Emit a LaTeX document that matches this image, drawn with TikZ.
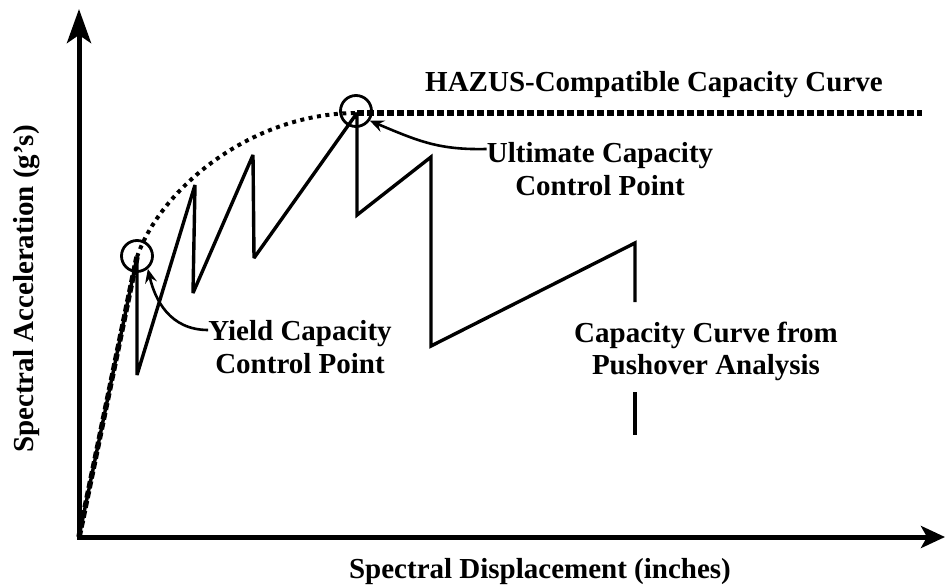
\documentclass[tikz,border=0pt]{standalone}
\usepackage{fontspec}
\setmainfont{Liberation Serif}
\usetikzlibrary{arrows.meta}
\begin{document}
\begin{tikzpicture}[x=1pt,y=-1pt,
  axis/.style={line width=5pt, line join=miter},
  pushover/.style={line width=3.4pt, line join=miter, miter limit=3},
  hazus/.style={line width=5.5pt, dash pattern=on 7pt off 3pt},
  hazuscurve/.style={line width=4pt, dash pattern=on 4pt off 4.5pt},
  ctrlpt/.style={circle, draw, line width=2.8pt, minimum size=31pt, inner sep=0pt},
  callout/.style={line width=2.6pt, -{Stealth[length=14pt,width=12pt,inset=5pt]}},
  lbl/.style={font=\bfseries\fontsize{29}{33}\selectfont, inner sep=0pt, anchor=base}
]
\useasboundingbox (0,0) rectangle (945,586);

% axes
\coordinate (O) at (79,537);
\coordinate (ytip) at (79,9);
\coordinate (xtip) at (945,537);
\draw[axis, {Stealth[length=34pt,width=24pt,inset=8pt]}-{Stealth[length=24pt,width=22pt,inset=6pt]}]
  (ytip) -- (O) -- (xtip);

% pushover capacity curve
\coordinate (yieldpt) at (137,257);
\coordinate (p2) at (137,375);
\coordinate (p3) at (195,185);
\coordinate (p4) at (193,293);
\coordinate (p5) at (253,155);
\coordinate (p6) at (254,258);
\coordinate (ultpt) at (357,113);
\coordinate (p8) at (357,215);
\coordinate (p9) at (431,157);
\coordinate (p10) at (431,346);
\coordinate (p11) at (635,243);
\coordinate (p12) at (635,302);
\coordinate (p13) at (635,392);
\coordinate (p14) at (635,435);
\draw[pushover] (O) -- (yieldpt) -- (p2) -- (p3) -- (p4) -- (p5) -- (p6)
  -- (ultpt) -- (p8) -- (p9) -- (p10) -- (p11) -- (p12);
\draw[pushover] (p13) -- (p14);

% HAZUS-compatible curve
\coordinate (hzend) at (922,113);
\draw[hazus] (O) -- (yieldpt);
\draw[hazuscurve] (yieldpt) .. controls (160,190) and (250,113) .. (ultpt);
\draw[hazus] (ultpt) -- (hzend);

% control point markers
\node[ctrlpt] (yieldc) at (137,256) {};
\node[ctrlpt] (ultc) at (356,111) {};

% labels
\node[lbl] (hazuslbl) at (654,92) {HAZUS-Compatible Capacity Curve};
\node[lbl] (ult1) at (600,162) {Ultimate Capacity};
\node[lbl] (ult2) at (600,195) {Control Point};
\node[lbl] (yld1) at (300,340) {Yield Capacity};
\node[lbl] (yld2) at (300,373) {Control Point};
\node[lbl] (push1) at (706,342) {Capacity Curve from};
\node[lbl] (push2) at (706,374) {Pushover Analysis};
\node[lbl] (xlbl) at (540,578) {Spectral Displacement (inches)};
\node[lbl, rotate=90] (ylbl) at (33,289) {Spectral Acceleration (g's)};

% callouts
\coordinate (ultfrom) at (ult1.west |- 0,149);
\coordinate (yldfrom) at (yld1.west |- 0,330);
\draw[callout] (ultfrom) .. controls (440,150) and (420,142) .. (ultc.-35);
\draw[callout] (yldfrom) .. controls (170,330) and (155,300) .. (yieldc.-50);
\end{tikzpicture}
\end{document}
